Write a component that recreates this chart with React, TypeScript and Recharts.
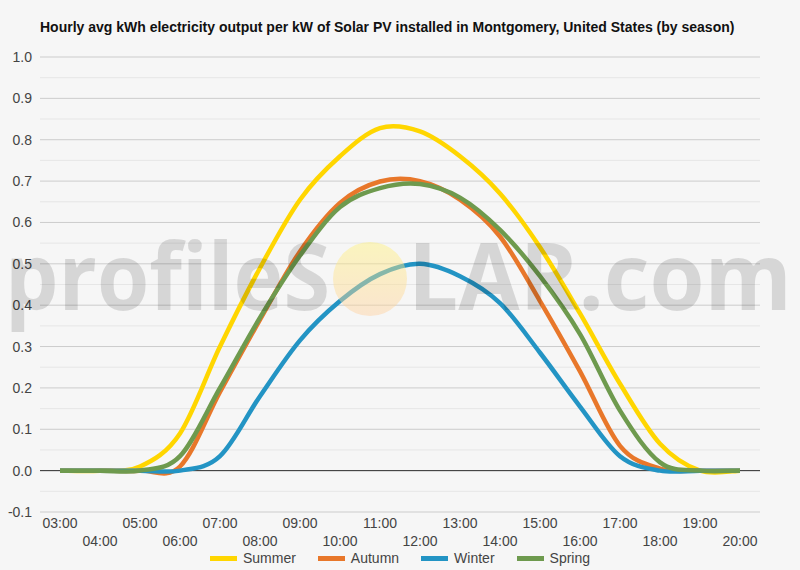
import React from 'react';
import { LineChart, Line, XAxis, YAxis, CartesianGrid, ReferenceLine, Legend } from 'recharts';

// hourly averages, kWh per kW installed
const hours = [
  '03:00', '04:00', '05:00', '06:00', '07:00', '08:00', '09:00', '10:00', '11:00',
  '12:00', '13:00', '14:00', '15:00', '16:00', '17:00', '18:00', '19:00', '20:00',
];
const summer = [0, 0, 0.01, 0.09, 0.3, 0.49, 0.655, 0.76, 0.828, 0.82, 0.76, 0.67, 0.54, 0.38, 0.21, 0.065, 0, 0];
const autumn = [0, 0, 0, 0.01, 0.19, 0.365, 0.53, 0.647, 0.699, 0.7, 0.655, 0.566, 0.41, 0.24, 0.06, 0.005, 0, 0];
const winter = [0, 0, 0, 0, 0.035, 0.18, 0.315, 0.41, 0.475, 0.5, 0.47, 0.405, 0.285, 0.155, 0.035, 0, 0, 0];
const spring = [0, 0, 0, 0.035, 0.2, 0.37, 0.52, 0.637, 0.683, 0.693, 0.66, 0.582, 0.47, 0.33, 0.145, 0.02, 0, 0];

const seasons = ['Summer', 'Autumn', 'Winter', 'Spring'];
const seasonColors = ['#FFD600', '#E8772A', '#2394C4', '#6E9A4E'];

const yTicks = [-0.1, 0, 0.1, 0.2, 0.3, 0.4, 0.5, 0.6, 0.7, 0.8, 0.9, 1.0];
const minorTicks = [-0.05, 0.05, 0.15, 0.25, 0.35, 0.45, 0.55, 0.65, 0.75, 0.85, 0.95];

const data = hours.map((hour, i) => ({
  hour,
  Summer: summer[i],
  Autumn: autumn[i],
  Winter: winter[i],
  Spring: spring[i],
}));

const FONT = "Arial, 'Liberation Sans', sans-serif";

// catmull-rom style smoothing (small overshoot near zero, like the original)
const smoothCurve = (context: any) => {
  let pts: number[][] = [];
  return {
    areaStart() {},
    areaEnd() {},
    lineStart() {
      pts = [];
    },
    point(x: number, y: number) {
      pts.push([+x, +y]);
    },
    lineEnd() {
      if (!pts.length) return;
      context.moveTo(pts[0][0], pts[0][1]);
      for (let i = 0; i < pts.length - 1; i++) {
        const p0 = pts[i - 1] || pts[i];
        const p1 = pts[i];
        const p2 = pts[i + 1];
        const p3 = pts[i + 2] || p2;
        context.bezierCurveTo(
          p1[0] + (p2[0] - p0[0]) / 6, p1[1] + (p2[1] - p0[1]) / 6,
          p2[0] - (p3[0] - p1[0]) / 6, p2[1] - (p3[1] - p1[1]) / 6,
          p2[0], p2[1],
        );
      }
    },
  };
};

// alternate rows like the original: odd hours on top, even hours below
const HourTick = (props: any) => {
  const { x, y, payload, index } = props;
  const row = index % 2;
  return (
    <text x={x} y={y + 16 + row * 18} textAnchor="middle" fill="#444" fontSize={14} fontFamily={FONT}>
      {payload.value}
    </text>
  );
};

const SeasonLegend = () => (
  <div style={{ display: 'flex', justifyContent: 'center', alignItems: 'center', height: 20, fontFamily: FONT, fontSize: 14, color: '#444' }}>
    {seasons.map((s, i) => (
      <div key={s} style={{ display: 'flex', alignItems: 'center', marginRight: i < seasons.length - 1 ? 22 : 0 }}>
        <span style={{ display: 'inline-block', width: 27, height: 5, background: seasonColors[i], marginRight: 6 }} />
        <span>{s}</span>
      </div>
    ))}
  </div>
);

const Watermark = () => (
  <svg width={800} height={570} style={{ position: 'absolute', left: 0, top: 0, pointerEvents: 'none' }}>
    <defs>
      <linearGradient id="sun" x1="0" y1="0" x2="0" y2="1">
        <stop offset="0%" stopColor="#fff27a" />
        <stop offset="100%" stopColor="#ffcf9e" />
      </linearGradient>
    </defs>
    <text x={40} y={32} fontFamily={FONT} fontWeight="bold" fontSize={14} fill="#111">
      Hourly avg kWh electricity output per kW of Solar PV installed in Montgomery, United States (by season)
    </text>
    <text x={5} y={310} fontFamily="'Open Sans', sans-serif" fontWeight={700} fontSize={94} fill="#000" fillOpacity={0.13}
      textLength={325} lengthAdjust="spacingAndGlyphs">
      profileS
    </text>
    <circle cx={370} cy={279} r={37} fill="url(#sun)" opacity={0.45} />
    <text x={408} y={310} fontFamily="'Open Sans', sans-serif" fontWeight={700} fontSize={94} fill="#000" fillOpacity={0.13}
      textLength={384} lengthAdjust="spacingAndGlyphs">
      LAR.com
    </text>
  </svg>
);

export default function App() {
  return (
    <div style={{ position: 'absolute', left: 0, top: 0, width: 800, height: 570, background: '#f6f6f6' }}>
      <LineChart width={800} height={570} data={data} margin={{ top: 57, right: 40, left: 0, bottom: 2 }}>
        <CartesianGrid vertical={false} horizontalValues={minorTicks} stroke="#e6e6e6" />
        <CartesianGrid vertical={false} stroke="#cccccc" />
        <XAxis
          dataKey="hour"
          interval={0}
          height={36}
          padding={{ left: 20, right: 20 }}
          axisLine={false}
          tickLine={false}
          tickSize={0}
          tickMargin={0}
          tick={<HourTick />}
        />
        <YAxis
          width={40}
          domain={[-0.1, 1.0]}
          ticks={yTicks}
          axisLine={false}
          tickLine={false}
          tickSize={0}
          tickMargin={8}
          tickFormatter={(v: number) => v.toFixed(1)}
          tick={{ fontSize: 14, fill: '#444', fontFamily: FONT }}
        />
        <ReferenceLine y={0} stroke="#333" strokeWidth={1} />
        {seasons.map((s, i) => (
          <Line
            key={s}
            type={smoothCurve as any}
            dataKey={s}
            stroke={seasonColors[i]}
            strokeWidth={4.5}
            dot={false}
            activeDot={false}
            isAnimationActive={false}
          />
        ))}
        <Legend verticalAlign="bottom" content={<SeasonLegend />} wrapperStyle={{ left: 0, width: 800 }} />
      </LineChart>
      <Watermark />
    </div>
  );
}
